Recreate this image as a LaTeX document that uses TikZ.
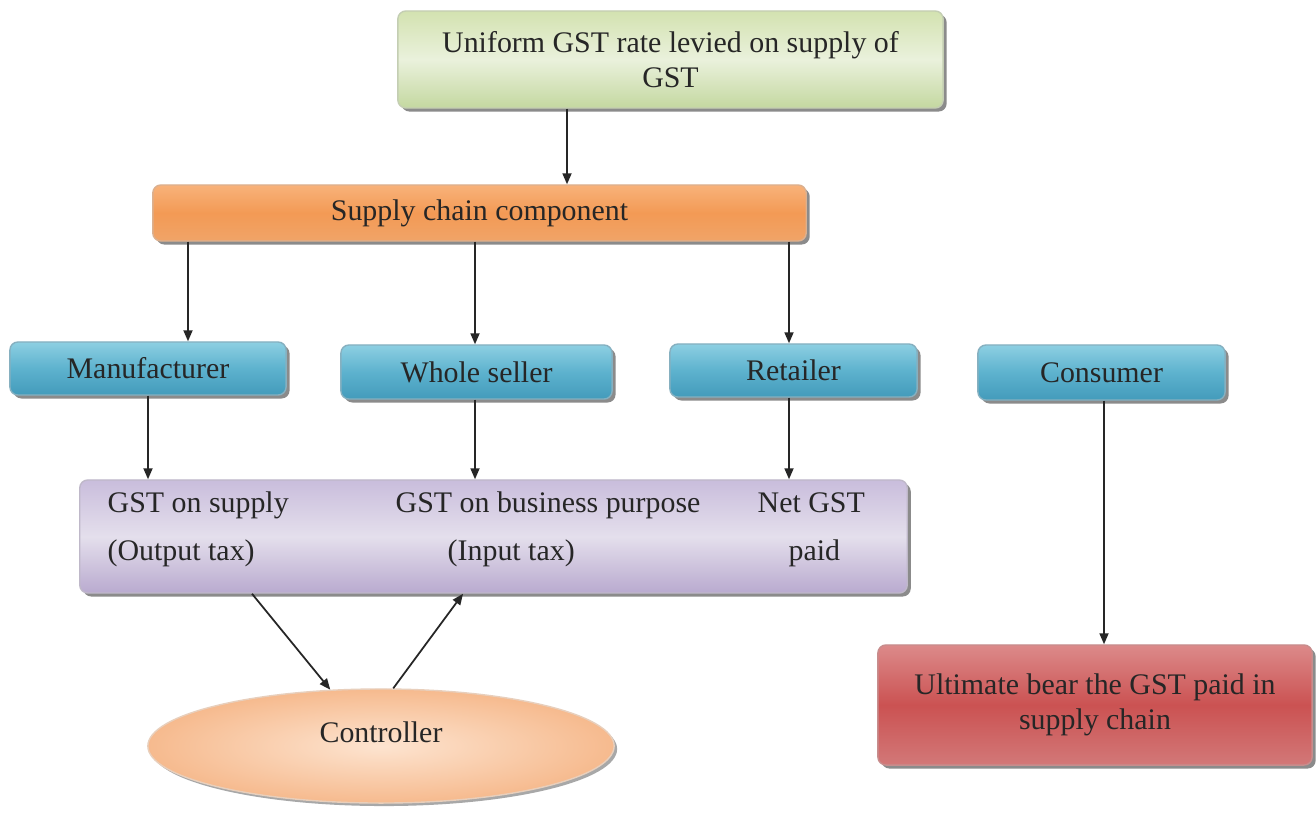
\documentclass[tikz,border=0pt]{standalone}
\usepackage{fontspec}
\setmainfont{Liberation Serif}
\usetikzlibrary{shapes.geometric,arrows.meta,shadows}
\definecolor{gtop}{HTML}{D3E2B0}
\definecolor{gmid}{HTML}{EAF1DC}
\definecolor{gbot}{HTML}{C4D8A0}
\definecolor{otop}{HTML}{F8B27A}
\definecolor{omid}{HTML}{F39A55}
\definecolor{obot}{HTML}{F0A468}
\definecolor{btop}{HTML}{8DCFE2}
\definecolor{bmid}{HTML}{5DB2CE}
\definecolor{bbot}{HTML}{439BBB}
\definecolor{ptop}{HTML}{C9BDDC}
\definecolor{pmid}{HTML}{E4DFEC}
\definecolor{pbot}{HTML}{B9AACF}
\definecolor{rtop}{HTML}{DC8A8A}
\definecolor{rmid}{HTML}{CB5252}
\definecolor{rbot}{HTML}{D27878}
\definecolor{ein}{HTML}{FDE4D0}
\definecolor{eout}{HTML}{F6BA8E}
\definecolor{shd}{HTML}{6E6E6E}
\tikzset{
  every node/.style={font=\fontsize{8.5}{10}\selectfont, text=black!85},
  base/.style={rounded corners=0.08cm, inner sep=2pt, align=center,
    drop shadow={shadow xshift=0.035cm, shadow yshift=-0.035cm, fill=shd, opacity=0.8}},
  gbox/.style={base, top color=gtop, bottom color=gbot, middle color=gmid, draw=gbot!80!black!60},
  obox/.style={base, top color=otop, bottom color=obot, middle color=omid, draw=omid!80!black!60},
  bbox/.style={base, top color=btop, bottom color=bbot, middle color=bmid, draw=bbot!80!black!60},
  pbox/.style={base, top color=ptop, bottom color=pbot, middle color=pmid, draw=pbot!80!black!60},
  rbox/.style={base, top color=rtop, bottom color=rbot, middle color=rmid, draw=rmid!80!black!60},
  ebox/.style={ellipse, inner sep=0pt, shading=radial, inner color=ein, outer color=eout, draw=eout!85!black!50,
    drop shadow={shadow xshift=0.03cm, shadow yshift=-0.03cm, fill=shd, opacity=0.6}},
  txt/.style={inner sep=0pt, anchor=base west},
  arr/.style={draw=black!85, line width=0.5pt, -{Triangle[length=1.1mm,width=0.9mm]}}
}
\begin{document}
\begin{tikzpicture}[x=0.01cm, y=-0.01cm]
\useasboundingbox (0,0) rectangle (1316,812);
\fill[white] (0,0) rectangle (1316,812);

\node[gbox, minimum width=5.45cm, minimum height=0.97cm] (top) at (670.5,59.5) {Uniform GST rate levied on supply of\\GST};
\node[obox, minimum width=6.53cm, minimum height=0.56cm] (chain) at (479.5,213) {Supply chain component};

\node[bbox, minimum width=2.76cm, minimum height=0.53cm] (manu) at (148,368.5) {Manufacturer};
\node[bbox, minimum width=2.71cm, minimum height=0.54cm] (whole) at (476.5,372) {Whole seller};
\node[bbox, minimum width=2.47cm, minimum height=0.53cm] (retail) at (793.5,370.5) {Retailer};
\node[bbox, minimum width=2.47cm, minimum height=0.55cm] (cons) at (1101.5,372.5) {Consumer};

\node[pbox, minimum width=8.27cm, minimum height=1.13cm] (tax) at (493.5,536.5) {};
\node[txt] (t1) at (107,512) {GST on supply};
\node[txt] (t2) at (107,560) {(Output tax)};
\node[txt] (t3) at (395,512) {GST on business purpose};
\node[txt] (t4) at (447,560) {(Input tax)};
\node[txt] (t5) at (757,512) {Net GST};
\node[txt] (t6) at (788,560) {paid};

\node[ebox, minimum width=4.66cm, minimum height=1.14cm] (ctrl) at (381,746) {};
\node (ctrltxt) at (381,732) {Controller};

\node[rbox, minimum width=4.34cm, minimum height=1.2cm] (ult) at (1095,705) {Ultimate bear the GST paid in\\supply chain};

\coordinate (c0) at (567,0);
\coordinate (c1) at (188,0);
\coordinate (c2) at (475,0);
\coordinate (c3) at (789,0);
\coordinate (c4) at (148,0);
\coordinate (c5) at (252,0);
\coordinate (c6) at (463,0);
\coordinate (c7) at (1104,0);

\draw[arr] (top.south -| c0) -- (chain.north -| c0);
\draw[arr] (chain.south -| c1) -- (manu.north -| c1);
\draw[arr] (chain.south -| c2) -- (whole.north -| c2);
\draw[arr] (chain.south -| c3) -- (retail.north -| c3);
\draw[arr] (manu.south -| c4) -- (tax.north -| c4);
\draw[arr] (whole.south -| c2) -- (tax.north -| c2);
\draw[arr] (retail.south -| c3) -- (tax.north -| c3);
\draw[arr] (tax.south -| c5) -- (ctrl.132);
\draw[arr] (ctrl.78) -- (tax.south -| c6);
\draw[arr] (cons.south -| c7) -- (ult.north -| c7);
\end{tikzpicture}
\end{document}
